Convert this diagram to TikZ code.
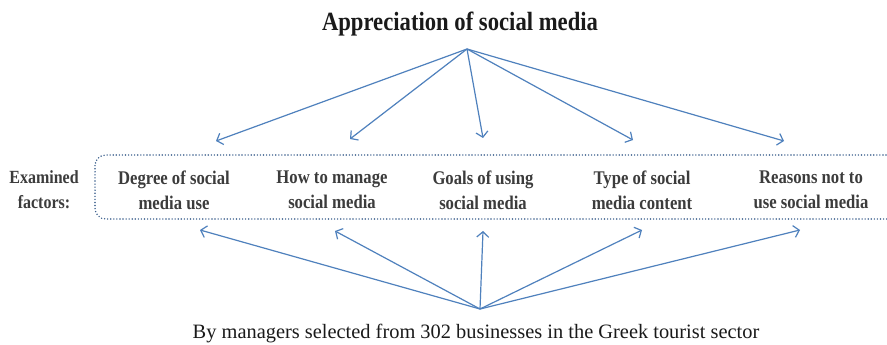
\documentclass[tikz,border=0pt]{standalone}
\usepackage{amsmath}
\usepackage{graphicx}
\usepackage{fontspec}
\setmainfont{Liberation Serif}
\usepackage{tikz}
\usetikzlibrary{arrows.meta, calc, positioning}
\usepackage{xcolor}
\definecolor{mArrow}{HTML}{4F81BD}
\definecolor{mDots}{HTML}{3A5E8C}
\definecolor{mText}{HTML}{1A1A1A}

% slightly stretched lettering
\newcommand{\tallbox}[1]{\scalebox{1}[1.16]{#1}}

\tikzset{
  factor/.style={align=center, font=\fontsize{12.5}{19}\selectfont\bfseries, text=mText!85, inner sep=0pt},
  link/.style={->, mArrow, line width=0.9pt}
}

\begin{document}
\begin{tikzpicture}[x=0.75pt, y=-0.75pt, >={Straight Barb[length=4pt, width=9pt]}]
  \clip (0,0) rectangle (887,345);
  \fill[white] (0,0) rectangle (887,345);

  \node[font=\fontsize{17}{20}\selectfont\bfseries, text=mText, anchor=base, inner sep=0pt] (title) at (460,31) {\tallbox{Appreciation of social media}};
  \node[font=\fontsize{15.3}{18}\selectfont, text=mText, anchor=base, inner sep=0pt] (sample) at (476,338) {By managers selected from 302 businesses in the Greek tourist sector};

  % dotted frame, runs off the right edge
  \draw[mDots, line width=1.2pt, dash pattern=on 0pt off 2.3pt, line cap=round, rounded corners=8pt] (95,155) rectangle (905,219);
  \node[factor, font=\fontsize{12}{19}\selectfont\bfseries] (examined) at (44,190) {\tallbox{Examined}\\\tallbox{factors:}};

  \foreach \i/\x/\one/\two in {1/174/{Degree of social}/{media use}, 2/332/{How to manage}/{social media},
                               3/483/{Goals of using}/{social media}, 4/642/{Type of social}/{media content},
                               5/811/{Reasons not to}/{use social media}} {
    \node[factor] (f\i) at (\x,190) {\tallbox{\one}\\\tallbox{\two}};
  }

  \coordinate (apex) at (467,49);
  \coordinate (base) at (480,309);
  \foreach \i/\tx/\ty/\bx/\by in {1/216/141/200/230, 2/350/139/335/231, 3/483/138/483/231,
                                  4/633/140/642/230, 5/784/141/800/230} {
    \coordinate (t\i) at (\tx,\ty);
    \coordinate (b\i) at (\bx,\by);
    \draw[link] (apex) -- (t\i);
    \draw[link] (base) -- (b\i);
  }
\end{tikzpicture}
\end{document}
